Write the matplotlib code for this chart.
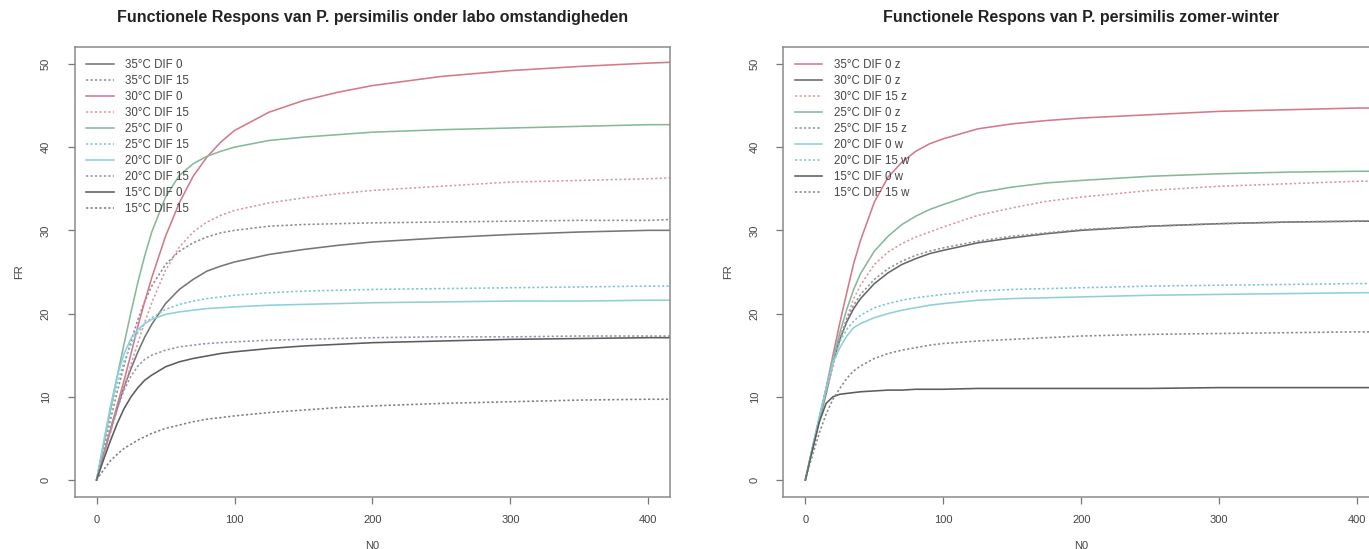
import matplotlib
matplotlib.use("Agg")
import matplotlib.pyplot as plt

plt.rcParams['font.family'] = ['Liberation Sans', 'DejaVu Sans']

# ---------------- data ----------------
N0 = [0, 5, 10, 15, 20, 25, 30, 35, 40, 50, 60, 70, 80, 90, 100, 125, 150, 175,
      200, 250, 300, 350, 400, 416]

# Left panel: labo omstandigheden
left_labels = ["35°C DIF 0", "35°C DIF 15", "30°C DIF 0", "30°C DIF 15",
               "25°C DIF 0", "25°C DIF 15", "20°C DIF 0", "20°C DIF 15",
               "15°C DIF 0", "15°C DIF 15"]
L_35_0 = [0, 3.0, 5.9, 8.6, 11.2, 13.4, 15.4, 17.2, 18.7, 21.2, 22.9, 24.1, 25.1, 25.7,
          26.2, 27.1, 27.7, 28.2, 28.6, 29.1, 29.5, 29.8, 30.0, 30.0]
L_35_15 = [0, 3.6, 7.2, 10.6, 13.8, 16.7, 19.3, 21.5, 23.3, 25.9, 27.5, 28.5, 29.2, 29.7,
           30.0, 30.5, 30.7, 30.8, 30.9, 31.0, 31.1, 31.2, 31.2, 31.3]
L_30_0 = [0, 3.0, 6.0, 9.0, 12.0, 15.2, 18.5, 21.5, 24.3, 29.3, 33.3, 36.5, 38.8, 40.6,
          42.0, 44.2, 45.6, 46.6, 47.4, 48.5, 49.2, 49.7, 50.1, 50.2]
L_30_15 = [0, 2.8, 5.6, 8.4, 11.2, 13.9, 16.5, 19.0, 21.3, 25.2, 28.0, 29.8, 31.0, 31.8,
           32.4, 33.3, 33.9, 34.4, 34.8, 35.3, 35.8, 36.0, 36.2, 36.3]
L_25_0 = [0, 4.2, 8.4, 12.5, 16.4, 20.2, 23.8, 27.0, 29.8, 34.0, 36.6, 38.0, 38.9, 39.5,
          40.0, 40.8, 41.2, 41.5, 41.8, 42.1, 42.3, 42.5, 42.7, 42.7]
L_25_15 = [0, 4.2, 8.2, 11.6, 14.3, 16.3, 17.7, 18.8, 19.5, 20.5, 21.1, 21.5, 21.8, 22.0,
           22.2, 22.5, 22.7, 22.8, 22.9, 23.0, 23.1, 23.2, 23.3, 23.3]
L_20_0 = [0, 4.5, 8.8, 12.5, 15.2, 17.0, 18.1, 18.8, 19.3, 19.9, 20.2, 20.4, 20.6, 20.7,
          20.8, 21.0, 21.1, 21.2, 21.3, 21.4, 21.5, 21.5, 21.6, 21.6]
L_20_15 = [0, 3.2, 6.2, 8.7, 10.8, 12.5, 13.7, 14.5, 15.0, 15.6, 16.0, 16.2, 16.4, 16.5,
           16.6, 16.8, 16.9, 17.0, 17.1, 17.2, 17.2, 17.3, 17.3, 17.3]
L_15_0 = [0, 2.4, 4.7, 6.8, 8.6, 10.0, 11.1, 12.0, 12.6, 13.6, 14.2, 14.6, 14.9, 15.2,
          15.4, 15.8, 16.1, 16.3, 16.5, 16.7, 16.9, 17.0, 17.1, 17.1]
L_15_15 = [0, 1.2, 2.3, 3.1, 3.8, 4.3, 4.8, 5.2, 5.6, 6.2, 6.6, 7.0, 7.3, 7.5,
           7.7, 8.1, 8.4, 8.7, 8.9, 9.2, 9.4, 9.6, 9.7, 9.7]

# Right panel: zomer-winter
right_labels = ["35°C DIF 0 z", "30°C DIF 0 z", "30°C DIF 15 z", "25°C DIF 0 z",
                "25°C DIF 15 z", "20°C DIF 0 w", "20°C DIF 15 w", "15°C DIF 0 w",
                "15°C DIF 15 w"]
R_35_0z = [0, 3.7, 7.3, 11.0, 15.0, 18.9, 22.5, 26.0, 28.8, 33.4, 36.4, 38.2, 39.5, 40.4,
           41.0, 42.2, 42.8, 43.2, 43.5, 43.9, 44.3, 44.5, 44.7, 44.7]
R_30_0z = [0, 3.6, 7.1, 10.4, 14.2, 16.9, 19.0, 20.6, 21.8, 23.6, 24.9, 25.9, 26.6, 27.2,
           27.6, 28.5, 29.1, 29.6, 30.0, 30.5, 30.8, 31.0, 31.1, 31.1]
R_30_15z = [0, 3.5, 7.0, 10.3, 13.6, 16.6, 19.4, 21.8, 23.4, 25.9, 27.4, 28.4, 29.2, 29.8,
            30.4, 31.8, 32.7, 33.5, 34.0, 34.8, 35.3, 35.6, 35.9, 35.9]
R_25_0z = [0, 3.8, 7.5, 10.9, 14.5, 17.7, 20.5, 22.9, 24.8, 27.5, 29.3, 30.7, 31.7, 32.5,
           33.1, 34.5, 35.2, 35.7, 36.0, 36.5, 36.8, 37.0, 37.1, 37.1]
R_25_15z = [0, 3.6, 7.1, 10.5, 14.3, 17.1, 19.3, 21.0, 22.3, 24.1, 25.4, 26.3, 27.0, 27.5,
            27.9, 28.7, 29.3, 29.7, 30.1, 30.5, 30.8, 31.0, 31.1, 31.2]
R_20_0w = [0, 3.7, 7.4, 10.9, 14.1, 15.9, 17.3, 18.3, 18.8, 19.5, 20.0, 20.4, 20.7, 21.0,
           21.2, 21.6, 21.8, 21.9, 22.0, 22.2, 22.3, 22.4, 22.5, 22.5]
R_20_15w = [0, 3.7, 7.4, 11.0, 14.6, 16.6, 18.1, 19.1, 19.8, 20.7, 21.2, 21.6, 21.9, 22.1,
            22.3, 22.7, 22.9, 23.0, 23.1, 23.3, 23.4, 23.5, 23.6, 23.6]
R_15_0w = [0, 3.5, 6.9, 9.2, 10.0, 10.3, 10.4, 10.5, 10.6, 10.7, 10.8, 10.8, 10.9, 10.9,
           10.9, 11.0, 11.0, 11.0, 11.0, 11.0, 11.1, 11.1, 11.1, 11.1]
R_15_15w = [0, 2.9, 5.6, 7.9, 9.7, 11.0, 12.2, 13.1, 13.7, 14.6, 15.2, 15.6, 15.9, 16.2,
            16.4, 16.7, 16.9, 17.1, 17.3, 17.5, 17.6, 17.7, 17.8, 17.8]

x_ticks = [0, 100, 200, 300, 400]
y_ticks = [0, 10, 20, 30, 40, 50]

# ---------------- styles ----------------
SOLID = '-'
DOT = (0, (1.4, 1.4))
left_series = [
    (L_35_0, "#767676", SOLID), (L_35_15, "#8e8e8e", DOT),
    (L_30_0, "#d4798b", SOLID), (L_30_15, "#d79ba6", DOT),
    (L_25_0, "#86b99b", SOLID), (L_25_15, "#7fc6cf", DOT),
    (L_20_0, "#8fd0d8", SOLID), (L_20_15, "#9494ae", DOT),
    (L_15_0, "#5c5c5c", SOLID), (L_15_15, "#808080", DOT),
]
right_series = [
    (R_35_0z, "#d4798b", SOLID), (R_30_0z, "#6a6470", SOLID),
    (R_30_15z, "#d79ba6", DOT), (R_25_0z, "#86b99b", SOLID),
    (R_25_15z, "#8a9a90", DOT), (R_20_0w, "#8fd0d8", SOLID),
    (R_20_15w, "#7fc6cf", DOT), (R_15_0w, "#5c5c5c", SOLID),
    (R_15_15w, "#8a8a8a", DOT),
]

W, H = 1369, 549
fig = plt.figure(figsize=(W / 100, H / 100), dpi=100)
fig.patch.set_facecolor('white')

box_bottom = 1 - 496.6 / H
box_h = (496.6 - 47.3) / H
box_w = (670.4 - 74.5) / W
ax1 = fig.add_axes([74.5 / W, box_bottom, box_w, box_h])
ax2 = fig.add_axes([783.3 / W, box_bottom, box_w, box_h])


def style(ax, title, series, labels):
    for (vals, col, ls), lab in zip(series, labels):
        ax.plot(N0, vals, color=col, linestyle=ls, lw=1.15, label=lab)
    ax.set_xlim(-16, 416)
    ax.set_ylim(-2, 52)
    ax.set_xticks(x_ticks)
    ax.set_yticks(y_ticks)
    ax.tick_params(axis='both', colors='#777777', labelcolor='#444444',
                   labelsize=8, length=5, width=0.9)
    ax.tick_params(axis='x', pad=8)
    ax.tick_params(axis='y', pad=12)
    for lab in ax.get_yticklabels():
        lab.set_rotation(90)
        lab.set_va('center')
    for sp in ax.spines.values():
        sp.set_color('#8a8a8a')
        sp.set_linewidth(1.1)
    ax.set_title(title, fontsize=11.5, fontweight='bold', color='#222222', pad=18)
    ax.set_xlabel("N0", fontsize=8, color='#444444', labelpad=12)
    ax.set_ylabel("FR", fontsize=8, color='#444444', labelpad=12)
    ax.legend(loc='upper left', frameon=False,
              fontsize=8.3, handlelength=2.4, handletextpad=1.0,
              labelspacing=0.35, borderaxespad=0.6, labelcolor='#444444')


style(ax1, "Functionele Respons van P. persimilis onder labo omstandigheden",
      left_series, left_labels)
style(ax2, "Functionele Respons van P. persimilis zomer-winter",
      right_series, right_labels)

fig.savefig("out.png", dpi=100, facecolor='white')
